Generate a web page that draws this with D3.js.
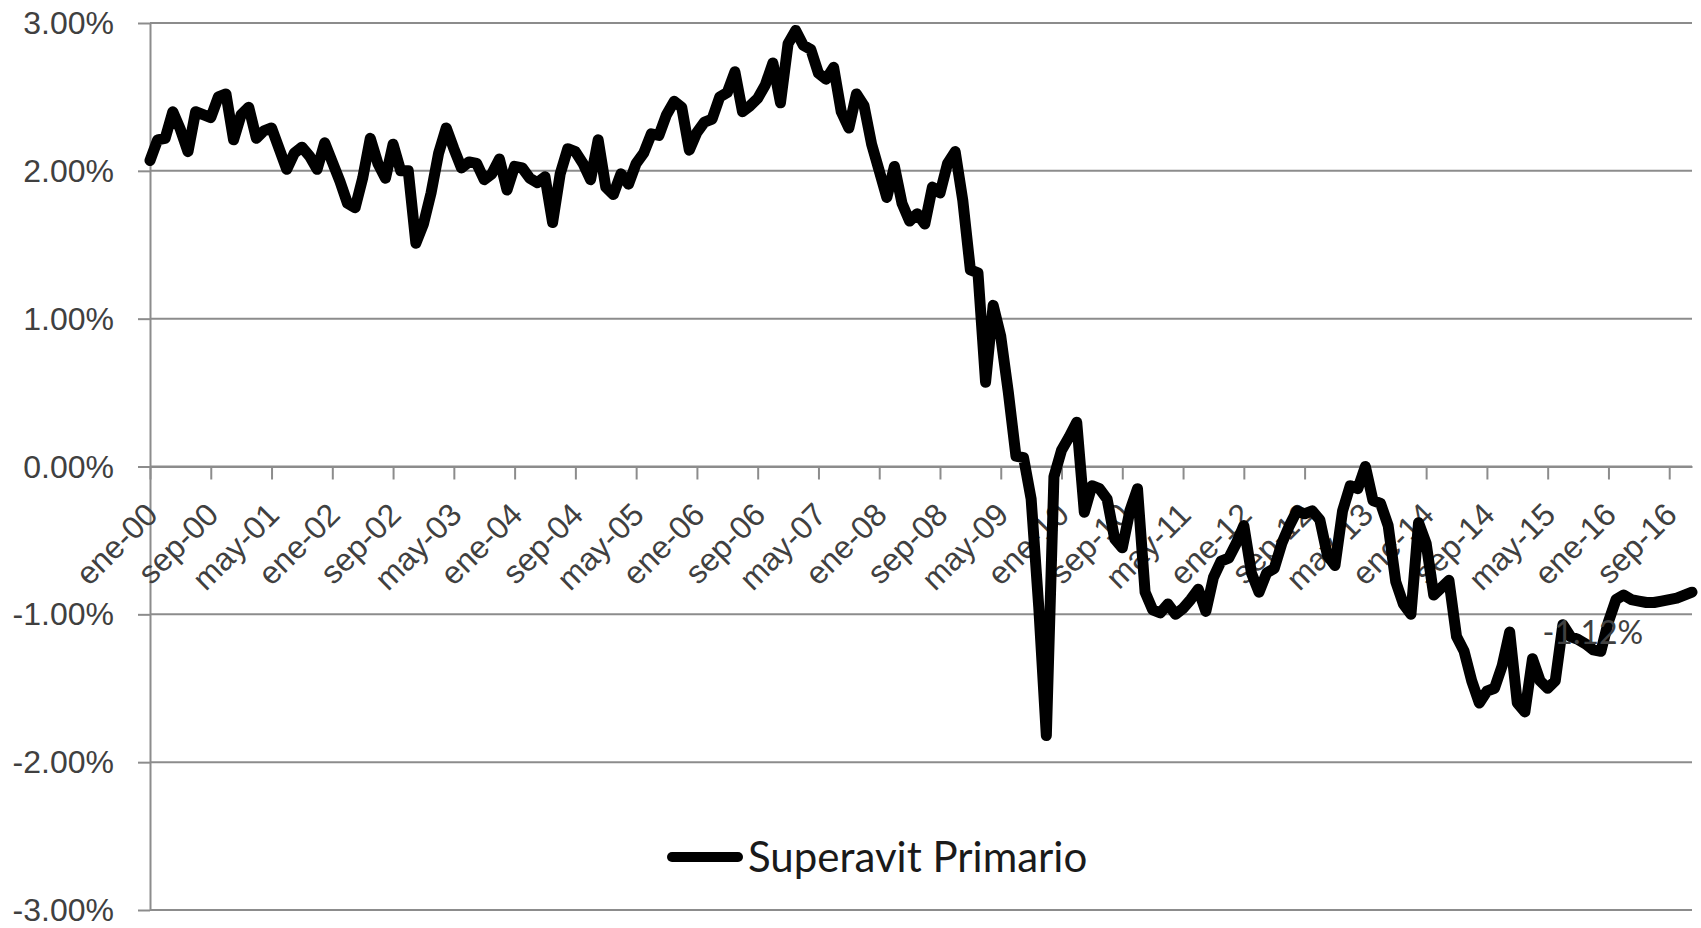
<!DOCTYPE html>
<html>
<head>
<meta charset="utf-8">
<script src="https://cdn.jsdelivr.net/npm/d3@7"></script>
<style>
  body { margin: 0; background: #ffffff; }
  svg { display: block; font-family: Lato, "Open Sans", sans-serif; }
  .tick-label { font-size: 32px; fill: #404040; }
  .legend-label { font-size: 42px; fill: #1a1a1a; }
</style>
</head>
<body>
<svg id="chart" width="1701" height="928"></svg>
<script>
// Superavit primario (% del PIB), monthly, ene-00 .. dic-16
// values

let months = ["ene", "feb", "mar", "abr", "may", "jun", "jul", "ago", "sep", "oct", "nov", "dic"];
let years = ["00", "01", "02", "03", "04", "05", "06", "07", "08", "09", "10", "11", "12", "13", "14", "15", "16"];

let y2000 = [2.07, 2.21, 2.22, 2.40, 2.28, 2.13, 2.40, 2.38, 2.36, 2.50, 2.52, 2.21];
let y2001 = [2.38, 2.43, 2.22, 2.27, 2.29, 2.15, 2.01, 2.12, 2.16, 2.10, 2.01, 2.19];
let y2002 = [2.06, 1.93, 1.78, 1.75, 1.95, 2.22, 2.05, 1.95, 2.18, 2.00, 2.00, 1.51];
let y2003 = [1.64, 1.85, 2.12, 2.29, 2.15, 2.02, 2.06, 2.05, 1.94, 1.98, 2.08, 1.87];
let y2004 = [2.03, 2.02, 1.95, 1.92, 1.96, 1.65, 1.98, 2.15, 2.13, 2.05, 1.94, 2.21];
let y2005 = [1.89, 1.84, 1.98, 1.91, 2.05, 2.12, 2.25, 2.24, 2.38, 2.47, 2.43, 2.14];
let y2006 = [2.26, 2.33, 2.35, 2.50, 2.53, 2.67, 2.40, 2.44, 2.49, 2.58, 2.73, 2.46];
let y2007 = [2.86, 2.95, 2.85, 2.82, 2.66, 2.62, 2.70, 2.40, 2.29, 2.52, 2.44, 2.18];
let y2008 = [2.00, 1.82, 2.03, 1.78, 1.66, 1.71, 1.64, 1.89, 1.85, 2.05, 2.13, 1.80];
let y2009 = [1.33, 1.31, 0.57, 1.09, 0.88, 0.50, 0.07, 0.06, -0.22, -0.95, -1.82, -0.07];
let y2010 = [0.11, 0.20, 0.30, -0.31, -0.13, -0.15, -0.22, -0.49, -0.55, -0.30, -0.15, -0.85];
let y2011 = [-0.97, -0.99, -0.93, -1.00, -0.96, -0.90, -0.83, -0.98, -0.75, -0.64, -0.62, -0.52];
let y2012 = [-0.40, -0.72, -0.85, -0.72, -0.69, -0.52, -0.40, -0.30, -0.32, -0.30, -0.36, -0.60];
let y2013 = [-0.67, -0.30, -0.13, -0.15, 0.00, -0.23, -0.25, -0.40, -0.78, -0.93, -1.00, -0.38];
let y2014 = [-0.52, -0.87, -0.82, -0.77, -1.15, -1.25, -1.45, -1.60, -1.52, -1.50, -1.35, -1.12];
let y2015 = [-1.60, -1.66, -1.30, -1.45, -1.50, -1.45, -1.07, -1.15, -1.17, -1.20, -1.24, -1.25];
let y2016 = [-1.05, -0.90, -0.87, -0.90, -0.91, -0.92, -0.92, -0.91, -0.90, -0.89, -0.87, -0.85];

let tickLabels = ["ene-00", "sep-00", "may-01", "ene-02", "sep-02", "may-03", "ene-04",
  "sep-04", "may-05", "ene-06", "sep-06", "may-07", "ene-08", "sep-08", "may-09",
  "ene-10", "sep-10", "may-11", "ene-12", "sep-12", "may-13", "ene-14", "sep-14",
  "may-15", "ene-16", "sep-16"];

let yTicks = [-3, -2, -1, 0, 1, 2, 3];

let seriesName = "Superavit Primario";
let annotation = { category: "mar-15", value: -1.12, text: "-1.12%" };

/*
 * Draw the line chart
 */
let drawLineChart = function() {

  let svg = d3.select("svg#chart");

  let categories = [];
  years.forEach(function(yy) {
    months.forEach(function(mm) { categories.push(mm + "-" + yy); });
  });

  let values = [].concat(y2000, y2001, y2002, y2003, y2004, y2005, y2006, y2007,
    y2008, y2009, y2010, y2011, y2012, y2013, y2014, y2015, y2016);

  let data = categories.map(function(c, i) { return { cat: c, value: values[i] }; });

  const left = 150;
  const right = 1692;
  const top = 23;
  const bottom = 910;

  let xScale = d3.scalePoint()
    .domain(categories)
    .range([left, right])
    .padding(0);

  let yScale = d3.scaleLinear()
    .domain([-3, 3])
    .range([bottom, top]);

  // gridlines
  svg.append("g").attr("id", "grid")
    .selectAll("line")
    .data(yTicks)
    .enter()
    .append("line")
    .attr("x1", left)
    .attr("x2", right)
    .attr("y1", d => yScale(d))
    .attr("y2", d => yScale(d))
    .attr("stroke", "#8c8c8c")
    .attr("stroke-width", 2);

  // y axis
  let yAxis = d3.axisLeft(yScale)
    .tickValues(yTicks)
    .tickSize(12)
    .tickSizeOuter(0)
    .tickPadding(24)
    .tickFormat(d => d.toFixed(2) + "%");

  let yGroup = svg.append("g").attr("id", "y-axis")
    .attr("transform", translate(left, 0))
    .call(yAxis);

  yGroup.select(".domain").attr("stroke", "#8c8c8c").attr("stroke-width", 2);
  yGroup.selectAll(".tick line").attr("stroke", "#8c8c8c").attr("stroke-width", 2);
  yGroup.selectAll(".tick text")
    .attr("class", "tick-label")
    .attr("font-size", null)
    .attr("font-family", null)
    .attr("fill", null)
    .attr("dy", "0.33em");

  // x axis sits on the zero line
  let tickCats = categories.filter(function(c, i) { return i % 8 === 0; });

  let xAxis = d3.axisBottom(xScale)
    .tickValues(tickCats)
    .tickSize(13)
    .tickSizeOuter(0)
    .tickFormat((d, i) => tickLabels[i]);

  let xGroup = svg.append("g").attr("id", "x-axis")
    .attr("transform", translate(0, yScale(0)))
    .call(xAxis);

  xGroup.select(".domain").attr("stroke", "#8c8c8c").attr("stroke-width", 2);
  xGroup.selectAll(".tick line").attr("stroke", "#8c8c8c").attr("stroke-width", 2);
  xGroup.selectAll(".tick text")
    .attr("class", "tick-label")
    .attr("font-size", null)
    .attr("font-family", null)
    .attr("fill", null)
    .attr("x", 0)
    .attr("y", 0)
    .attr("dy", "0.36em")
    .attr("text-anchor", "end")
    .attr("transform", "translate(1,42) rotate(-45)");

  // the series
  let line = d3.line()
    .x(d => xScale(d.cat))
    .y(d => yScale(d.value));

  svg.append("path")
    .datum(data)
    .attr("d", line)
    .attr("fill", "none")
    .attr("stroke", "#000000")
    .attr("stroke-width", 11)
    .attr("stroke-linejoin", "round")
    .attr("stroke-linecap", "round");

  // data label
  svg.append("text")
    .attr("class", "tick-label")
    .attr("x", xScale(annotation.category) + 10)
    .attr("y", yScale(annotation.value))
    .attr("dy", "0.36em")
    .text(annotation.text);

  // legend
  const legend = svg.append("g").attr("id", "legend")
    .attr("transform", translate(672, 857));

  legend.append("line")
    .attr("x1", 0)
    .attr("x2", 66)
    .attr("stroke", "#000000")
    .attr("stroke-width", 10)
    .attr("stroke-linecap", "round");

  legend.append("text")
    .attr("class", "legend-label")
    .attr("x", 76)
    .attr("y", 0)
    .attr("dy", "0.36em")
    .text(seriesName);
}

drawLineChart();

/*
 * returns a translate string for the transform attribute
 */
function translate(x, y) {
  return 'translate(' + String(x) + ',' + String(y) + ')';
}
</script>
</body>
</html>
